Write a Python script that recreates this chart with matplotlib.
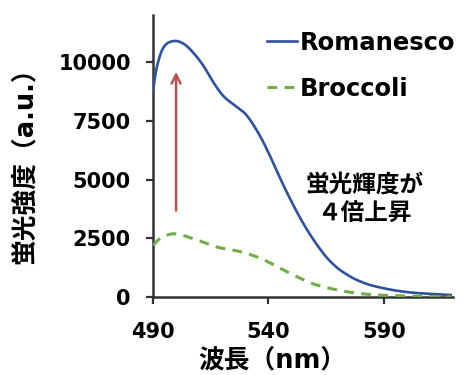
import matplotlib
matplotlib.use("Agg")
import numpy as np
import matplotlib.pyplot as plt

plt.rcParams["font.family"] = ["DejaVu Sans", "Noto Sans CJK JP"]
plt.rcParams["font.weight"] = "bold"

# emission spectra (wavelength nm, intensity a.u.)
roma_wl = [490, 491.6, 494.5, 498.8, 503.2, 507.5, 511.9, 516.2, 520.6,
           526.4, 530.7, 536.5, 540.9, 545.2, 549.6, 553.9, 558.3, 564,
           567.5, 571.3, 578, 586, 600, 619]
roma_int = [8770, 9760, 10610, 10890, 10780, 10390, 9830, 9130, 8540,
            8080, 7720, 6830, 5960, 5030, 4140, 3340, 2620, 1830,
            1450, 1130, 740, 460, 210, 85]

broc_wl = [490, 493, 499, 507.5, 517.6, 527.8, 536.5, 543.7, 552, 561,
           578.5, 600, 619]
broc_int = [2200, 2480, 2690, 2480, 2130, 1930, 1650, 1300, 880, 510,
            160, 40, 10]

arrow_x = 500
arrow_from, arrow_to = 3560, 9700

C_BLUE = "#2F52A0"
C_GREEN = "#70AD47"
C_RED = "#C0504D"
C_AXIS = "#333333"


def smooth(x, y):
    # cubic Hermite through the read-off points
    x = np.asarray(x, float); y = np.asarray(y, float)
    xs, ys = [], []
    for i in range(len(x) - 1):
        x0, x1 = x[i], x[i + 1]
        y0, y1 = y[i], y[i + 1]
        m0 = (y[i + 1] - y[i - 1]) / (x[i + 1] - x[i - 1]) if i > 0 else (y1 - y0) / (x1 - x0)
        m1 = (y[i + 2] - y[i]) / (x[i + 2] - x[i]) if i + 2 < len(x) else (y1 - y0) / (x1 - x0)
        t = np.linspace(0, 1, 20, endpoint=False)
        h = x1 - x0
        h00 = 2 * t**3 - 3 * t**2 + 1
        h10 = t**3 - 2 * t**2 + t
        h01 = -2 * t**3 + 3 * t**2
        h11 = t**3 - t**2
        xs.append(x0 + t * h)
        ys.append(h00 * y0 + h10 * h * m0 + h01 * y1 + h11 * h * m1)
    xs.append([x[-1]]); ys.append([y[-1]])
    return np.concatenate(xs), np.concatenate(ys)


fig = plt.figure(figsize=(4.63, 3.75), dpi=100)
ax = fig.add_axes([153 / 463, 1 - 297 / 375, 300 / 463, 282 / 375])

bx, by = smooth(roma_wl, roma_int)
gx, gy = smooth(broc_wl, broc_int)
ax.plot(bx, by, color=C_BLUE, lw=1.9, label="Romanesco", zorder=3)
ax.plot(gx, gy, color=C_GREEN, lw=2.2, dashes=(3.2, 2.4), label="Broccoli", zorder=3)

ax.annotate("", xy=(arrow_x, arrow_to), xytext=(arrow_x, arrow_from),
            arrowprops=dict(arrowstyle="->", color=C_RED, lw=1.8,
                            mutation_scale=16))

ax.text(581.5, 4150, "蛍光輝度が\n４倍上昇", ha="center", va="center",
        fontsize=17, fontweight="bold", linespacing=1.2)

ax.set_xlim(490, 620)
ax.set_ylim(0, 12000)
ax.set_xticks([490, 540, 590])
ax.set_yticks([0, 2500, 5000, 7500, 10000])
for s in ["top", "right"]:
    ax.spines[s].set_visible(False)
for s in ["left", "bottom"]:
    ax.spines[s].set_color(C_AXIS)
    ax.spines[s].set_linewidth(1.8)
ax.tick_params(axis="both", direction="out", length=5, width=1.6,
               color=C_AXIS, labelsize=15)
ax.tick_params(axis="y", pad=11)
ax.tick_params(axis="x", pad=13)
for lab in ax.get_xticklabels() + ax.get_yticklabels():
    lab.set_fontweight("bold")

xl = ax.set_xlabel("波長（nm）", fontsize=18.5, fontweight="bold")
xl.set_va("center")
xl.set_ha("center")
ax.xaxis.set_label_coords((272 - 153) / 300, -(360 - 297) / 282)
yl = ax.set_ylabel("蛍光強度（a.u.）", fontsize=18.5, fontweight="bold")
yl.set_va("center")
yl.set_ha("center")
ax.yaxis.set_label_coords((25 - 153) / 300, (297 - 159) / 282)

fig.legend(loc="upper left", bbox_to_anchor=(267 / 463, 1 - 31 / 375),
           frameon=False, handlelength=1.25, handletextpad=0.1,
           labelspacing=0.9, borderpad=0, borderaxespad=0,
           prop={"weight": "bold", "size": 17.5})

fig.savefig("out.png", dpi=100)
